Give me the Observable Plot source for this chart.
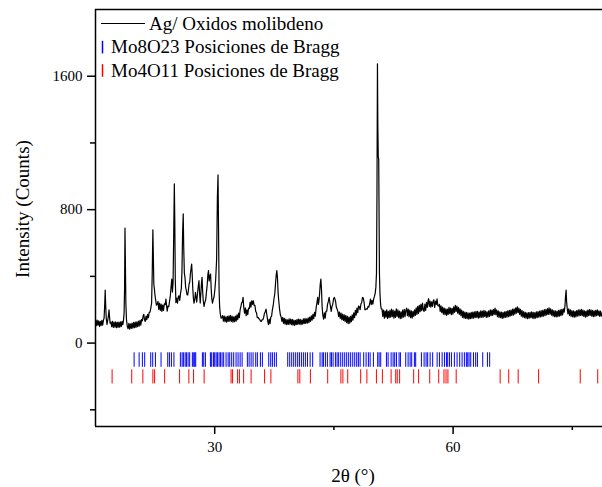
<!DOCTYPE html>
<html><head><meta charset="utf-8">
<script src="https://cdn.jsdelivr.net/npm/d3@7"></script>
<script src="https://cdn.jsdelivr.net/npm/@observablehq/plot@0.6"></script>
<style>body{margin:0;background:#fff}#chart{width:602px;height:487px}</style>
</head><body><div id="chart"></div>
<script>
// XRD scan, 2θ (°) vs intensity (counts)
const scanA = [[15.00,140],[15.10,105],[15.20,138],[15.30,108],[15.40,134],[15.50,100],[15.60,130],[15.70,104],[15.80,136],[15.90,108],[16.00,138],[16.08,150],[16.16,230],[16.22,318],[16.28,230],[16.35,150],[16.45,112],[16.55,140],[16.63,165],[16.70,199],[16.76,160],[16.84,120],[16.94,126],[17.04,98],[17.14,130],[17.24,94],[17.34,126],[17.44,96],[17.54,128],[17.64,92],[17.74,124],[17.84,94],[17.94,126],[18.04,96],[18.14,128],[18.24,98],[18.34,130],[18.44,110],[18.52,135],[18.60,180],[18.66,330],[18.71,690],[18.76,500],[18.82,240],[18.90,140],[19.00,100],[19.10,86],[19.20,118],[19.30,84],[19.40,116],[19.50,88],[19.60,120],[19.70,90],[19.80,124],[19.90,92],[20.00,126],[20.10,94],[20.20,128],[20.30,98],[20.40,132],[20.50,102],[20.60,136],[20.70,108],[20.80,142],[20.90,134],[21.00,165],[21.08,172],[21.16,142],[21.26,130],[21.36,162],[21.46,140],[21.56,172],[21.66,152],[21.76,184],[21.86,186],[21.96,210]];
const scanB = [[22.06,240],[22.14,420],[22.22,679],[22.28,520],[22.34,354],[22.40,330],[22.48,290],[22.56,262],[22.66,228],[22.76,232],[22.86,250],[22.96,202],[23.06,240],[23.16,196],[23.26,234],[23.36,190],[23.46,228],[23.56,196],[23.66,236],[23.76,230],[23.86,264],[23.94,226],[24.02,192],[24.12,222],[24.22,218],[24.32,252],[24.42,286],[24.52,344],[24.60,384],[24.68,306],[24.76,360],[24.84,640],[24.92,955],[24.98,720],[25.04,380],[25.12,242],[25.22,270],[25.32,240],[25.42,278],[25.50,284],[25.60,256],[25.70,298],[25.80,326],[25.88,430],[25.96,660],[26.04,775],[26.10,580],[26.18,420],[26.26,394],[26.34,336],[26.42,318],[26.52,290],[26.60,288],[26.68,314],[26.78,354],[26.86,366],[26.94,414],[27.02,446],[27.10,474],[27.16,420],[27.24,330],[27.32,268],[27.40,240],[27.50,266],[27.58,304],[27.66,272],[27.74,246],[27.84,300],[27.94,344],[28.02,374],[28.10,296],[28.18,240],[28.26,300],[28.34,362],[28.41,394],[28.48,312],[28.56,254],[28.66,220],[28.76,244],[28.86,258],[28.96,304],[29.06,352],[29.14,410],[29.22,434],[29.30,372],[29.38,400],[29.48,414],[29.56,326],[29.64,266],[29.72,240],[29.82,262],[29.92,278],[30.02,320],[30.12,380],[30.24,500],[30.34,880],[30.42,1008],[30.48,700],[30.55,320],[30.62,220],[30.70,176],[30.80,150],[30.90,152]];
const scanC = [[31.00,165],[31.10,132],[31.20,162],[31.30,128],[31.40,158],[31.50,126],[31.60,160],[31.70,130],[31.80,164],[31.90,132],[32.00,166],[32.10,130],[32.20,160],[32.30,126],[32.40,158],[32.50,128],[32.60,162],[32.70,132],[32.80,170],[32.90,140],[33.00,180],[33.10,152],[33.20,200],[33.30,220],[33.40,242],[33.48,246],[33.57,274],[33.66,212],[33.76,180],[33.86,212],[33.96,164],[34.06,200],[34.16,170],[34.26,210],[34.36,206],[34.46,246],[34.56,216],[34.66,254],[34.76,232],[34.86,254],[34.96,226],[35.06,226],[35.16,190],[35.26,182],[35.36,152],[35.46,154],[35.56,146],[35.66,142],[35.76,132],[35.86,130],[35.96,140],[36.06,140],[36.16,154],[36.26,178],[36.36,188],[36.46,204],[36.56,170],[36.66,138],[36.76,110],[36.86,144],[36.96,116],[37.06,156],[37.16,162],[37.26,200],[37.36,224],[37.46,266],[37.56,296],[37.66,362],[37.74,408],[37.82,434],[37.90,390],[37.98,300],[38.06,254],[38.16,205],[38.26,170],[38.36,156],[38.46,130],[38.56,154],[38.66,118],[38.76,148],[38.86,114],[38.96,144],[39.06,110],[39.16,140],[39.26,112],[39.36,146],[39.46,114],[39.56,144],[39.66,110],[39.76,142],[39.86,108],[39.96,138],[40.06,106],[40.16,136],[40.26,110],[40.36,142],[40.46,112],[40.56,144],[40.66,114],[40.76,142],[40.86,110],[40.96,138],[41.06,114],[41.16,146],[41.26,116],[41.36,148],[41.46,118],[41.56,146],[41.66,120],[41.76,152],[41.86,122],[41.96,156],[42.06,130],[42.16,164],[42.26,138],[42.36,172],[42.46,146],[42.56,184],[42.66,162],[42.76,210],[42.86,240],[42.96,274],[43.04,232],[43.12,252],[43.20,296],[43.28,352],[43.36,384],[43.44,320],[43.52,216],[43.60,170],[43.70,144],[43.80,182],[43.90,150],[44.00,190],[44.10,192],[44.20,232],[44.30,250],[44.40,274],[44.48,246],[44.56,222],[44.66,190],[44.76,220],[44.86,234],[44.96,266],[45.06,274],[45.14,262],[45.22,248],[45.30,216],[45.40,204],[45.50,190],[45.60,160],[45.70,186],[45.80,148],[45.90,180],[46.00,140],[46.10,174],[46.20,136],[46.30,170],[46.40,130],[46.50,166],[46.60,122],[46.70,160],[46.80,116],[46.90,156],[47.00,120],[47.10,160],[47.20,128],[47.30,170],[47.40,138],[47.50,182],[47.60,152],[47.70,196],[47.80,168],[47.90,210],[48.00,182],[48.10,222],[48.20,218],[48.30,200],[48.40,234],[48.50,244],[48.60,274],[48.70,270],[48.80,244],[48.90,200],[49.00,200],[49.10,206],[49.20,204],[49.30,220],[49.40,216],[49.50,236],[49.60,264],[49.70,230],[49.80,256],[49.90,234],[50.00,264],[50.10,280],[50.20,300],[50.28,334],[50.36,420],[50.42,900],[50.48,1674],[50.53,1300],[50.58,1120],[50.64,1100],[50.68,800],[50.73,420],[50.80,294],[50.88,230],[50.96,205]];
const scanD = [[51.05,205],[51.15,160],[51.25,198],[51.35,150],[51.45,192],[51.55,155],[51.65,200],[51.75,148],[51.85,190],[51.95,152],[52.05,196],[52.15,156],[52.25,204],[52.35,158],[52.45,198],[52.55,150],[52.65,192],[52.75,154],[52.85,206],[52.95,160],[53.05,200],[53.15,152],[53.25,192],[53.35,146],[53.45,188],[53.55,150],[53.65,198],[53.75,156],[53.85,202],[53.95,158],[54.05,196],[54.15,210],[54.25,164],[54.35,204],[54.45,158],[54.55,198],[54.65,152],[54.75,194],[54.85,150],[54.95,190],[55.05,160],[55.15,200],[55.25,166],[55.35,212],[55.45,172],[55.55,220],[55.65,178],[55.75,226],[55.85,188],[55.95,232],[56.05,194],[56.15,240],[56.25,200],[56.35,190],[56.45,234],[56.55,196],[56.65,245],[56.75,214],[56.85,256],[56.92,266],[57.00,220],[57.10,252],[57.20,216],[57.30,248],[57.40,220],[57.50,254],[57.58,260],[57.68,214],[57.80,252],[57.90,232],[57.98,266],[58.08,224],[58.18,222],[58.28,232],[58.38,190],[58.48,224],[58.58,182],[58.68,216],[58.78,174],[58.88,210],[58.98,170],[59.08,206],[59.18,166],[59.28,204],[59.38,172],[59.48,214],[59.58,176],[59.68,210],[59.78,170],[59.88,208],[59.98,174],[60.08,218],[60.18,184],[60.28,226],[60.38,190],[60.48,222],[60.58,180],[60.68,214],[60.78,172],[60.88,206],[60.98,164],[61.08,198],[61.18,154],[61.28,190],[61.38,150],[61.48,186],[61.58,148],[61.68,184],[61.78,146],[61.88,182],[61.98,144],[62.08,180],[62.18,146],[62.28,184],[62.38,148],[62.48,186],[62.58,150],[62.68,188],[62.78,152],[62.88,190],[62.98,154],[63.08,190],[63.18,150],[63.28,186],[63.38,152],[63.48,194],[63.58,156],[63.68,192],[63.78,154],[63.88,196],[63.98,160],[64.08,192],[64.18,154],[64.28,188],[64.38,156],[64.48,194],[64.58,160],[64.68,200],[64.78,164],[64.88,198],[64.98,166],[65.08,202],[65.18,172],[65.28,210],[65.38,170],[65.48,200],[65.58,158],[65.68,194],[65.78,154],[65.88,188],[65.98,152],[66.08,186],[66.18,148],[66.28,184],[66.38,151],[66.48,188],[66.58,154],[66.68,191],[66.78,156],[66.88,194],[66.98,158],[67.08,196],[67.18,161],[67.28,198],[67.38,166],[67.48,204],[67.58,168],[67.68,206],[67.78,174],[67.88,212],[67.98,180],[68.08,218],[68.18,182],[68.28,210],[68.38,172],[68.48,202],[68.58,162],[68.68,195],[68.78,155],[68.88,189],[68.98,152],[69.08,185],[69.18,149],[69.28,182],[69.38,147],[69.48,183],[69.58,149],[69.68,185],[69.78,152],[69.88,187],[69.98,150],[70.08,185],[70.18,147],[70.28,183],[70.38,149],[70.48,187],[70.58,153],[70.68,189],[70.78,155],[70.88,192],[70.98,157],[71.08,195],[71.18,159],[71.28,197],[71.38,162],[71.48,201],[71.58,165],[71.68,203],[71.78,169],[71.88,207],[71.98,172],[72.08,212],[72.18,173],[72.28,205],[72.38,167],[72.48,199],[72.58,162],[72.68,195],[72.78,159],[72.88,193],[72.98,157],[73.08,192],[73.18,159],[73.28,197],[73.38,162],[73.48,199],[73.58,165],[73.68,202],[73.78,169],[73.88,205],[73.98,185],[74.08,225],[74.15,280],[74.22,318],[74.28,250],[74.36,208],[74.45,175],[74.55,206],[74.65,166],[74.75,200],[74.85,160],[74.95,195],[75.05,157],[75.15,193],[75.25,155],[75.35,191],[75.45,157],[75.55,195],[75.65,161],[75.75,199],[75.85,163],[75.95,200],[76.05,166],[76.15,202],[76.25,164],[76.35,198],[76.45,160],[76.55,194],[76.65,156],[76.75,192],[76.85,159],[76.95,198],[77.05,164],[77.15,201],[77.25,166],[77.35,199],[77.45,162],[77.55,196],[77.65,159],[77.75,194],[77.85,160],[77.95,197],[78.05,164],[78.15,199],[78.25,166],[78.35,194],[78.45,160],[78.55,192],[78.65,162],[78.80,185]];

// Bragg positions (2θ, °)
const mo8o23 = [19.86,20.49,20.90,21.19,21.95,22.20,22.54,23.25,24.09,24.30,24.55,24.87,25.68,25.90,26.06,26.28,26.44,26.65,26.85,27.19,27.36,27.48,27.61,28.45,28.62,28.83,29.46,29.62,29.84,30.00,30.18,30.34,30.55,30.72,30.93,31.13,31.43,31.69,31.89,32.14,32.39,32.69,32.94,33.20,33.45,34.11,34.33,34.58,34.83,35.16,35.37,35.75,36.00,36.80,37.05,37.26,37.51,37.76,39.19,39.44,39.69,39.94,40.19,40.44,40.66,40.91,41.16,41.41,41.67,42.01,42.33,43.26,43.52,43.68,43.93,44.18,44.52,44.69,44.90,45.19,45.40,45.60,45.86,46.11,46.36,46.61,46.86,47.11,47.37,47.62,47.87,48.08,48.30,48.75,49.05,49.34,49.56,49.97,50.51,50.69,50.89,51.61,51.82,52.20,52.45,52.65,52.87,53.20,53.37,54.04,54.34,54.59,54.79,55.13,55.29,56.01,56.35,56.60,56.80,57.11,57.43,57.99,58.28,58.62,58.91,59.16,59.32,59.54,59.79,60.16,60.50,60.83,61.13,61.42,61.67,61.84,62.01,62.22,62.56,62.84,63.06,63.73,64.32,64.60];
const mo4o11 = [17.09,19.56,20.96,22.22,22.44,23.70,25.58,26.75,27.34,28.67,32.06,32.25,32.88,33.11,33.64,34.58,36.28,37.07,40.47,40.71,42.04,44.22,45.88,46.13,46.74,48.37,49.15,50.35,51.10,52.20,52.78,52.97,53.27,55.04,55.66,57.06,58.19,58.85,59.11,59.35,60.39,65.92,67.00,68.19,70.76,76.00,78.20];

const xTicks = [30, 60];
const xMinorTicks = [45, 75];
const yTicks = [0, 800, 1600];
const yMinorTicks = [-400, 400, 1200];
const xTitle = "2θ (°)";
const yTitle = "Intensity (Counts)";
const legendLabels = ["Ag/ Oxidos molibdeno", "Mo8O23 Posiciones de Bragg", "Mo4O11 Posiciones de Bragg"];
const seriesColors = ["#000000", "#0000ff", "#ff0000"];

const scan = [...scanA, ...scanB, ...scanC, ...scanD].map(([t, c]) => ({t, c}));
const FONT = "'Liberation Serif','Times New Roman',serif";
const plain = d => String(d);

const plot = Plot.plot({
  width: 602, height: 487,
  marginLeft: 95, marginRight: 0, marginTop: 9, marginBottom: 61,
  style: {fontFamily: FONT, fontSize: "15px", background: "#fff", color: "#000", overflow: "visible"},
  x: {domain: [15, 78.8]},
  y: {domain: [-500, 2000]},
  marks: [
    Plot.ruleX(mo8o23, {x: d => d, y1: -58, y2: -145, stroke: seriesColors[1], strokeWidth: 1}),
    Plot.ruleX(mo4o11, {x: d => d, y1: -160, y2: -245, stroke: seriesColors[2], strokeWidth: 1}),
    Plot.line(scan, {x: "t", y: "c", stroke: seriesColors[0], strokeWidth: 1.2}),
    Plot.axisX(xTicks, {tickSize: 8, tickPadding: 7, strokeWidth: 1.5, fontSize: 15, tickFormat: plain, label: null}),
    Plot.axisX(xMinorTicks, {tickSize: 4, strokeWidth: 1.5, tickFormat: () => "", label: null}),
    Plot.axisY(yTicks, {tickSize: 8, tickPadding: 5, strokeWidth: 1.5, fontSize: 15, tickFormat: plain, label: null}),
    Plot.axisY(yMinorTicks, {tickSize: 5, strokeWidth: 1.5, tickFormat: () => "", label: null}),
    Plot.ruleX([15], {strokeWidth: 1.5}),
    Plot.ruleY([-500], {strokeWidth: 1.5}),
    Plot.ruleY([2000], {strokeWidth: 1.5})
  ]
});

const svg = d3.select(plot);
// axis titles
svg.append("text").attr("transform", "translate(29,209) rotate(-90)")
  .attr("text-anchor", "middle").attr("font-family", FONT).attr("font-size", 19).attr("fill", "#000").text(yTitle);
svg.append("text").attr("x", 353).attr("y", 482)
  .attr("text-anchor", "middle").attr("font-family", FONT).attr("font-size", 19).attr("fill", "#000").text(xTitle);
// legend
const lg = svg.append("g").attr("font-family", FONT).attr("font-size", 19).attr("text-anchor", "start").attr("fill", "#000");
lg.append("line").attr("x1", 101).attr("x2", 145).attr("y1", 23.5).attr("y2", 23.5).attr("stroke", seriesColors[0]).attr("stroke-width", 1);
lg.append("text").attr("x", 149).attr("y", 30).attr("text-anchor", "start").text(legendLabels[0]);
[1, 2].forEach(i => {
  const base = 30 + i * 23.4;
  lg.append("line").attr("x1", 102.5).attr("x2", 102.5).attr("y1", base - 12.6).attr("y2", base).attr("stroke", seriesColors[i]).attr("stroke-width", 1.5);
  lg.append("text").attr("x", 111).attr("y", base).attr("text-anchor", "start").text(legendLabels[i]);
});

document.getElementById("chart").appendChild(plot);
</script></body></html>
